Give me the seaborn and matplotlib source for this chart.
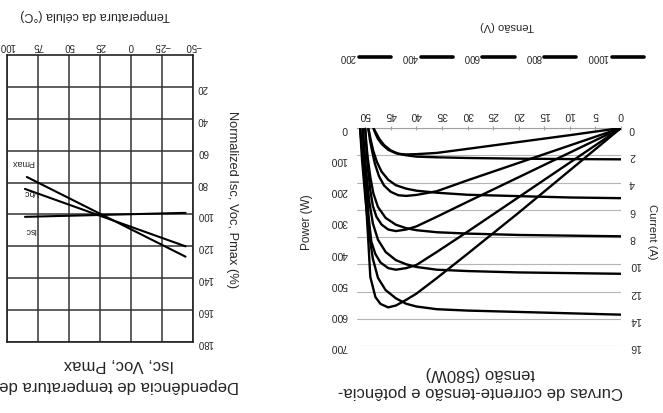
import numpy as np
import pandas as pd
import seaborn as sns
import matplotlib.pyplot as plt

# irradiance levels (W/m2) in the order printed in the legend
irradiance = [200, 400, 600, 800, 1000]

# I-V curves (voltage V, current A)
iv_v_1000 = [0, 10, 20, 30, 36, 40, 42, 44, 46, 47.5, 48.5, 49.3, 50.0, 50.6, 51.0]
iv_i_1000 = [13.7, 13.6, 13.5, 13.4, 13.3, 13.1, 12.9, 12.5, 11.9, 11.0, 9.6, 7.6, 5.0, 2.4, 0]
iv_v_800 = [0, 10, 20, 30, 36, 40, 42, 44, 46, 47.5, 48.5, 49.2, 49.8, 50.2, 50.5]
iv_i_800 = [10.7, 10.65, 10.6, 10.5, 10.4, 10.2, 10.0, 9.7, 9.1, 8.2, 7.0, 5.4, 3.2, 1.5, 0]
iv_v_600 = [0, 10, 20, 30, 36, 40, 42, 44, 46, 47.5, 48.4, 49.0, 49.5, 49.8, 50.0]
iv_i_600 = [7.95, 7.9, 7.85, 7.75, 7.65, 7.5, 7.35, 7.1, 6.6, 5.8, 4.8, 3.6, 2.2, 1.1, 0]
iv_v_400 = [0, 10, 20, 30, 36, 40, 42, 44, 45.5, 46.8, 47.7, 48.4, 48.9, 49.4]
iv_i_400 = [5.15, 5.1, 5.0, 4.9, 4.75, 4.6, 4.45, 4.2, 3.8, 3.2, 2.5, 1.7, 0.9, 0]
iv_v_200 = [0, 10, 20, 30, 36, 40, 42, 44, 45.5, 46.7, 47.5, 48.0, 48.4]
iv_i_200 = [2.3, 2.28, 2.25, 2.2, 2.15, 2.1, 2.0, 1.85, 1.6, 1.2, 0.8, 0.4, 0]

# P-V curves (voltage V, power W)
pv_v_1000 = [0, 10, 20, 30, 36, 40, 42, 44, 45.5, 47, 48, 49, 49.4, 49.8, 50.3, 51.0]
pv_p_1000 = [0, 136, 272, 404, 482, 532, 552, 570, 576, 565, 543, 478, 360, 250, 120, 0]
pv_v_800 = [0, 10, 20, 30, 36, 40, 42, 44, 45.5, 47, 48, 48.8, 49.3, 49.7, 50.1, 50.5]
pv_p_800 = [0, 111, 222, 333, 398, 440, 450, 455, 450, 432, 405, 365, 290, 200, 100, 0]
pv_v_600 = [0, 10, 20, 30, 36, 40, 42, 44, 45.5, 46.8, 47.8, 48.5, 49.0, 49.4, 49.7, 50.0]
pv_p_600 = [0, 79, 158, 237, 285, 316, 326, 331, 326, 310, 285, 250, 200, 140, 80, 0]
pv_v_400 = [0, 10, 20, 30, 36, 40, 42, 43.5, 45, 46.3, 47.3, 48.1, 48.7, 49.1, 49.4]
pv_p_400 = [0, 56, 112, 168, 203, 215, 218, 216, 205, 185, 155, 115, 70, 35, 0]
pv_v_200 = [0, 10, 20, 30, 36, 40, 42, 43.5, 45, 46.3, 47.2, 47.9, 48.4]
pv_p_200 = [0, 23, 45, 67, 80, 84, 85, 83, 72, 55, 36, 15, 0]

v_ticks = list(range(0, 51, 5))
i_ticks = list(range(0, 17, 2))
p_ticks = list(range(0, 701, 100))

# temperature dependence (cell temperature C, normalized %)
temp_isc = [-44, 85.5]
isc_pct = [99.0, 101.5]
temp_voc = [-44, 85.5]
voc_pct = [120.0, 84.0]
temp_pmax = [-44, 84]
pmax_pct = [126.5, 76.5]
t_ticks = [-50, -25, 0, 25, 50, 75, 100]
n_ticks = list(range(20, 181, 20))

iv_curves = {1000: (iv_v_1000, iv_i_1000), 800: (iv_v_800, iv_i_800), 600: (iv_v_600, iv_i_600),
             400: (iv_v_400, iv_i_400), 200: (iv_v_200, iv_i_200)}
pv_curves = {1000: (pv_v_1000, pv_p_1000), 800: (pv_v_800, pv_p_800), 600: (pv_v_600, pv_p_600),
             400: (pv_v_400, pv_p_400), 200: (pv_v_200, pv_p_200)}

sns.set_style("white")
plt.rcParams['font.family'] = ['Liberation Sans', 'DejaVu Sans']

W, H = 663, 413
fig = plt.figure(figsize=(W / 100, H / 100), dpi=100)
fig.patch.set_facecolor('white')

# the page is photographed upside down: axes are inverted and all text turned 180 deg
# ---- I-V / P-V panel ----
ax = fig.add_axes([357 / W, 67 / H, 264 / W, 218 / H])
ax2 = ax.twinx()
for g in irradiance:
    v, i = iv_curves[g]
    sns.lineplot(x=v, y=i, ax=ax, color='black', lw=1.7, sort=False, estimator=None)
    v, p = pv_curves[g]
    sns.lineplot(x=v, y=p, ax=ax2, color='black', lw=1.7, sort=False, estimator=None)

ax.set_xlim(51.6, 0)
ax.set_ylim(16, 0)
ax2.set_ylim(700, 0)
ax.set_xticks(v_ticks)
ax.set_yticks(i_ticks)
ax2.set_yticks(p_ticks)
ax.xaxis.tick_top()
ax.yaxis.tick_right()
ax2.yaxis.tick_left()
ax.yaxis.grid(True, color='#b5b5b5', lw=0.8)
ax.xaxis.grid(False)
for s in ax.spines.values():
    s.set_visible(False)
for s in ax2.spines.values():
    s.set_visible(False)
ax.spines['top'].set_visible(True)
ax.spines['top'].set_color('#a0a0a0')
ax.spines['top'].set_linewidth(0.8)
ax.tick_params(axis='x', labelrotation=180, labelsize=7.5, length=3, color='#a0a0a0',
               direction='inout', pad=4, top=True, bottom=False)
ax.tick_params(axis='y', labelrotation=180, labelsize=7.5, length=0, pad=6)
ax2.tick_params(axis='y', labelrotation=180, labelsize=7.5, length=0, pad=7)

ax.set_xlabel('Tensão (V)', rotation=180, fontsize=8)
ax.xaxis.set_label_position('top')
ax.xaxis.set_label_coords(0.568, 1.47)
ax.xaxis.label.set_va('center')
ax.set_ylabel('Current (A)', rotation=270, fontsize=8)
ax.yaxis.set_label_position('right')
ax.yaxis.set_label_coords(1.118, 0.523)
ax.yaxis.label.set_va('center')
ax2.set_ylabel('Power (W)', rotation=90, fontsize=8.5)
ax2.yaxis.set_label_position('left')
ax2.yaxis.set_label_coords(-0.19, 0.569)
ax2.yaxis.label.set_va('center')

leg_lines = [plt.Line2D([], [], color='black', lw=2.6) for g in irradiance]
leg = ax.legend(leg_lines, [str(g) for g in irradiance], ncol=5, frameon=False,
                markerfirst=False, loc='center', bbox_to_anchor=(0.51, 1.326),
                fontsize=7, handlelength=3.3, handletextpad=0.3, columnspacing=1.1)
for t in leg.get_texts():
    t.set_rotation(180)

fig.text(480 / W, 30.5 / H, 'Curvas de corrente-tensão e potência-\ntensão (580W)',
         rotation=180, ha='center', va='center', fontsize=12, linespacing=1.2)

# ---- temperature dependence panel ----
bx = fig.add_axes([7 / W, 71 / H, 186 / W, 287 / H])
sns.lineplot(x=temp_isc, y=isc_pct, ax=bx, color='black', lw=1.5)
sns.lineplot(x=temp_voc, y=voc_pct, ax=bx, color='black', lw=1.5)
sns.lineplot(x=temp_pmax, y=pmax_pct, ax=bx, color='black', lw=1.5)
bx.set_xlim(100, -50)
bx.set_ylim(180, 0)
bx.set_xticks(t_ticks)
bx.set_yticks(n_ticks)
bx.xaxis.tick_top()
bx.yaxis.tick_right()
bx.grid(True, color='#333333', lw=1.1)
for s in bx.spines.values():
    s.set_color('#222222')
    s.set_linewidth(1.2)
bx.tick_params(axis='both', labelrotation=180, labelsize=7, length=0, pad=3)
bx.set_xlabel('Temperatura da célula (°C)', rotation=180, fontsize=9)
bx.xaxis.set_label_position('top')
bx.xaxis.set_label_coords(0.473, 1.139)
bx.xaxis.label.set_va('center')
bx.set_ylabel('Normalized Isc, Voc, Pmax (%)', rotation=270, fontsize=9.3)
bx.yaxis.set_label_position('right')
bx.yaxis.set_label_coords(1.21, 0.495)
bx.yaxis.label.set_va('center')

bx.text(81.5, 110, 'Isc', rotation=180, ha='center', va='center', fontsize=6.5)
bx.text(80.6, 86.5, 'Voc', rotation=180, ha='center', va='center', fontsize=6.5)
bx.text(87, 67.7, 'Pmax', rotation=180, ha='center', va='center', fontsize=6.5)

fig.text(119 / W, 38 / H, 'Dependência de temperatura de\nIsc, Voc, Pmax',
         rotation=180, ha='center', va='center', fontsize=12, linespacing=1.5)

fig.savefig('out.png', dpi=100, facecolor=fig.get_facecolor())
